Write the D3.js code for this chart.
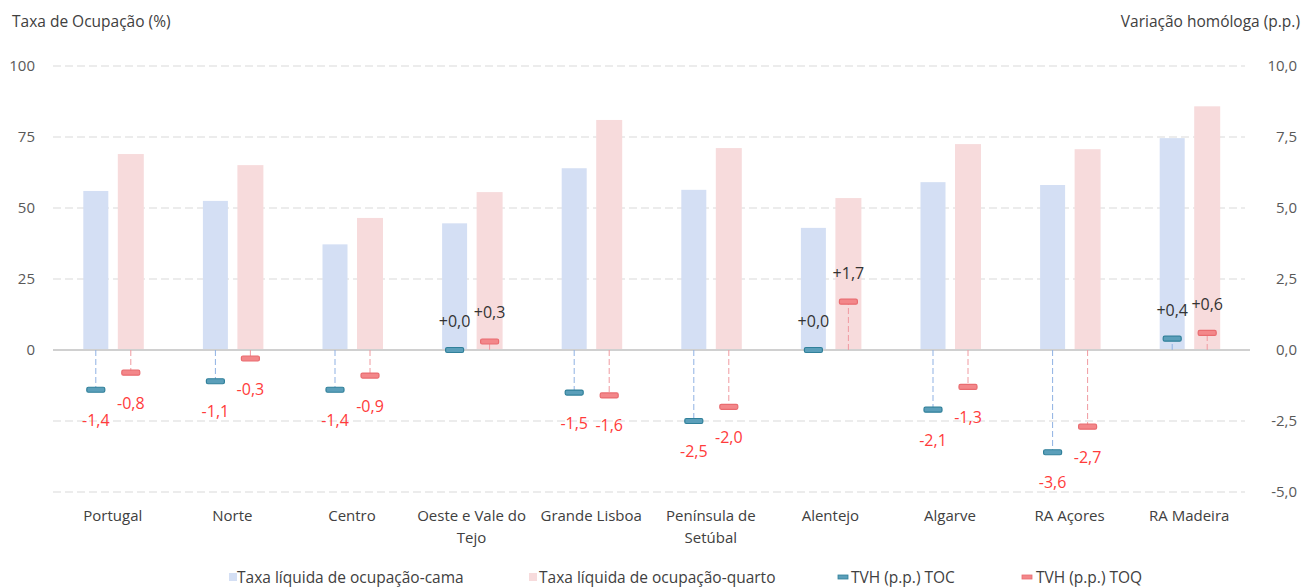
<!DOCTYPE html>
<html><head><meta charset="utf-8">
<script src="https://cdn.jsdelivr.net/npm/d3@7"></script>
<style>body{margin:0;background:#fff}svg{display:block;font-family:"Open Sans",sans-serif}</style>
</head><body><svg id="c" width="1306" height="588"></svg>
<script>
const categories = ["Portugal","Norte","Centro","Oeste e Vale do Tejo","Grande Lisboa","Península de Setúbal","Alentejo","Algarve","RA Açores","RA Madeira"];
const categoryLines = [["Portugal"],["Norte"],["Centro"],["Oeste e Vale do","Tejo"],["Grande Lisboa"],["Península de","Setúbal"],["Alentejo"],["Algarve"],["RA Açores"],["RA Madeira"]];
const taxaCama = [56,52.5,37.2,44.6,64,56.4,43,59.1,58.1,74.6];
const taxaQuarto = [69,65.1,46.5,55.6,81,71.1,53.5,72.5,70.7,85.8];
const tvhTOC = [-1.4,-1.1,-1.4,0.0,-1.5,-2.5,0.0,-2.1,-3.6,0.4];
const tvhTOQ = [-0.8,-0.3,-0.9,0.3,-1.6,-2.0,1.7,-1.3,-2.7,0.6];
const leftTicks = [0,25,50,75,100];
const rightTicks = [-5,-2.5,0,2.5,5,7.5,10];
const gridTicks = [-50,-25,25,50,75,100];
const seriesNames = ["Taxa líquida de ocupação-cama","Taxa líquida de ocupação-quarto","TVH (p.p.) TOC","TVH (p.p.) TOQ"];

const svg = d3.select("#c");
const x0 = 53, x1 = 1249;
const x = d3.scaleBand().domain(categories).range([x0,x1]);
const yL = d3.scaleLinear().domain([-50,100]).range([492,66]);
const yR = d3.scaleLinear().domain([-5,10]).range([492,66]);
const fmt = v => (v>=0?"+":"") + v.toFixed(1).replace(".",",");
const fmtT = v => v.toFixed(1).replace(".",",");

// grid
svg.append("g").selectAll("line").data(gridTicks).join("line")
  .attr("x1",x0).attr("x2",1245).attr("y1",d=>yL(d)).attr("y2",d=>yL(d))
  .attr("stroke","#d9d9d9").attr("stroke-width",1).attr("stroke-dasharray","8,4");

// bars
const cx = d => x(d) + x.bandwidth()/2;
svg.append("g").selectAll("rect").data(categories).join("rect")
  .attr("x",(d)=>cx(d)-29.5).attr("width",25)
  .attr("y",(d,i)=>yL(taxaCama[i])).attr("height",(d,i)=>yL(0)-yL(taxaCama[i]))
  .attr("fill","#d4dff4");
svg.append("g").selectAll("rect").data(categories).join("rect")
  .attr("x",(d)=>cx(d)+5).attr("width",26)
  .attr("y",(d,i)=>yL(taxaQuarto[i])).attr("height",(d,i)=>yL(0)-yL(taxaQuarto[i]))
  .attr("fill","#f7dbdc");

// zero line
svg.append("line").attr("x1",x0).attr("x2",1250).attr("y1",yL(0)).attr("y2",yL(0))
  .attr("stroke","#d0d0d0").attr("stroke-width",2);

// connectors & markers
function drawMarkers(vals, off, lineCol, fill, stroke){
  const g = svg.append("g");
  g.selectAll("line").data(categories).join("line")
    .attr("x1",d=>cx(d)+off).attr("x2",d=>cx(d)+off)
    .attr("y1",yR(0)).attr("y2",(d,i)=>yR(vals[i]))
    .attr("stroke",lineCol).attr("stroke-width",1).attr("stroke-dasharray","6,3");
  g.selectAll("rect").data(categories).join("rect")
    .attr("x",d=>cx(d)+off-9).attr("width",18)
    .attr("y",(d,i)=>yR(vals[i])-2.5).attr("height",5).attr("rx",1.5)
    .attr("fill",fill).attr("stroke",stroke).attr("stroke-width",1.2);
  g.selectAll("text").data(categories).join("text")
    .attr("x",d=>cx(d)+off)
    .attr("y",(d,i)=>vals[i]<0 ? yR(vals[i])+36 : yR(vals[i])-23)
    .attr("text-anchor","middle").attr("font-size",16)
    .attr("fill",(d,i)=>vals[i]<0?"#ff3b3b":"#333")
    .text((d,i)=>fmt(vals[i]));
}
drawMarkers(tvhTOC,-17,"#8fb1e3","#5b9fba","#31809a");
drawMarkers(tvhTOQ,18,"#f09aa0","#f3878a","#e96c70");

// left axis labels
svg.append("g").selectAll("text").data(leftTicks).join("text")
  .attr("x",35).attr("y",d=>yL(d)+5).attr("text-anchor","end")
  .attr("font-size",15).attr("fill","#595959").text(d=>d);
// right axis labels
svg.append("g").selectAll("text").data(rightTicks).join("text")
  .attr("x",1297).attr("y",d=>yR(d)+5).attr("text-anchor","end")
  .attr("font-size",15).attr("fill","#595959").text(d=>fmtT(d));

// titles
svg.append("text").attr("x",12).attr("y",27).attr("font-size",15.5).attr("fill","#404040").text("Taxa de Ocupação (%)");
svg.append("text").attr("x",1300).attr("y",27).attr("text-anchor","end").attr("font-size",15.5).attr("fill","#404040").text("Variação homóloga (p.p.)");

// category labels
const cl = svg.append("g").selectAll("text").data(categories).join("text")
  .attr("x",d=>cx(d)).attr("y",521).attr("text-anchor","middle")
  .attr("font-size",15).attr("fill","#404040");
cl.each(function(d,i){
  const t = d3.select(this);
  categoryLines[i].forEach((s,j)=>t.append("tspan").attr("x",cx(d)).attr("dy",j?22:0).text(s));
});

// legend
const leg = [
  {x:229, w:8, h:8, fill:"#d4dff4", stroke:"none", tx:237},
  {x:529, w:8, h:8, fill:"#f7dbdc", stroke:"none", tx:539},
  {x:838, w:10, h:4, fill:"#5b9fba", stroke:"#31809a", tx:851},
  {x:1022, w:10, h:4, fill:"#f3878a", stroke:"#e96c70", tx:1036}
];
const lg = svg.append("g");
leg.forEach((l,i)=>{
  lg.append("rect").attr("x",l.x).attr("y",577-l.h/2).attr("width",l.w).attr("height",l.h)
    .attr("fill",l.fill).attr("stroke",l.stroke).attr("stroke-width",0.8);
  lg.append("text").attr("x",l.tx).attr("y",582.5).attr("font-size",15.5).attr("fill","#404040").text(seriesNames[i]);
});
</script></body></html>
